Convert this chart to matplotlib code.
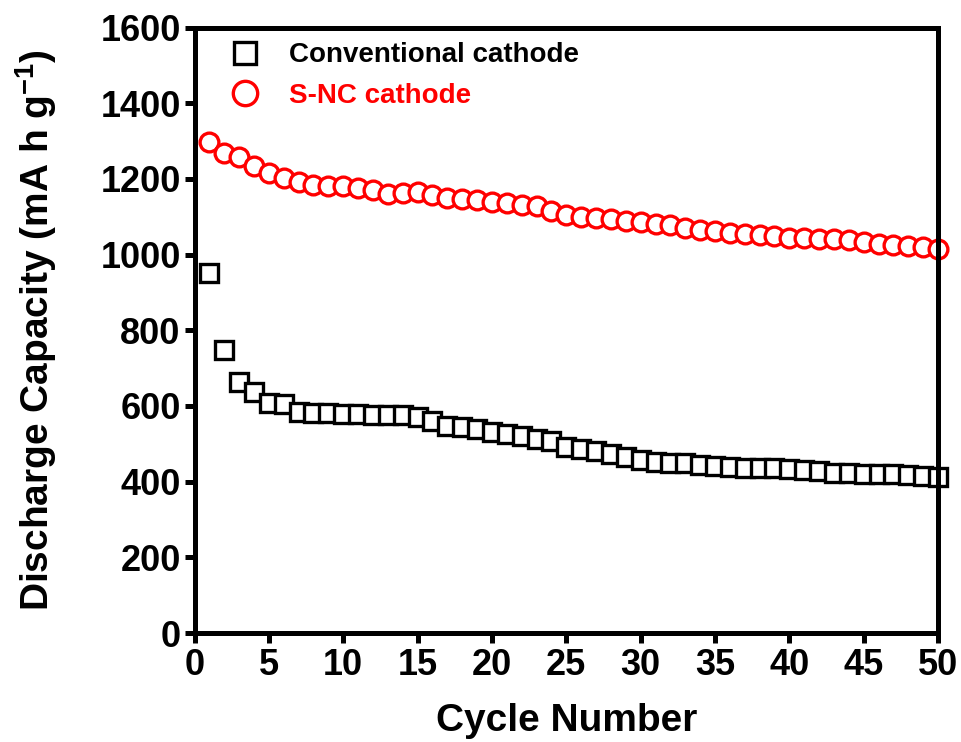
import matplotlib
matplotlib.use("Agg")
import matplotlib.pyplot as plt
import numpy as np

cycles = list(range(1, 51))
conventional = [952, 749, 663, 636, 609, 604, 585, 582, 581, 578,
                578, 576, 575, 575, 570, 561, 547, 544, 539, 531,
                527, 521, 512, 508, 492, 485, 480, 472, 465, 457,
                452, 450, 448, 445, 440, 438, 437, 436, 435, 433,
                430, 427, 424, 422, 420, 420, 420, 418, 415, 412]
snc = [1297, 1268, 1259, 1233, 1215, 1202, 1193, 1184, 1180, 1180,
       1175, 1170, 1160, 1162, 1165, 1158, 1150, 1147, 1144, 1140,
       1135, 1132, 1128, 1115, 1105, 1100, 1097, 1093, 1088, 1085,
       1082, 1078, 1070, 1066, 1062, 1058, 1055, 1051, 1049, 1045,
       1043, 1040, 1040, 1038, 1033, 1028, 1026, 1022, 1020, 1015]
xticks = list(range(0, 51, 5))
yticks = list(range(0, 1601, 200))

plt.rcParams['font.family'] = ['Liberation Sans', 'DejaVu Sans']
plt.rcParams['font.weight'] = 'bold'
plt.rcParams['mathtext.fontset'] = 'custom'
plt.rcParams['mathtext.bf'] = 'Liberation Sans:bold'
plt.rcParams['mathtext.rm'] = 'Liberation Sans:bold'

fig = plt.figure(figsize=(9.62, 7.42), dpi=100)
ax = fig.add_axes([0.2022, 0.1469, 0.7729, 0.816])

ax.plot(cycles, conventional, linestyle='none', marker='s', markersize=12.5,
        markerfacecolor='white', markeredgecolor='black', markeredgewidth=2.4,
        label='Conventional cathode', clip_on=False)
ax.plot(cycles, snc, linestyle='none', marker='o', markersize=13.5,
        markerfacecolor='white', markeredgecolor='#ff0000', markeredgewidth=2.4,
        label='S-NC cathode', clip_on=False)

ax.set_xlim(0, 50)
ax.set_ylim(0, 1600)
ax.set_xticks(xticks)
ax.set_yticks(yticks)
for s in ax.spines.values():
    s.set_linewidth(3.6)
    s.set_zorder(5)
ax.tick_params(direction='out', length=7, width=3.6, labelsize=26)
ax.tick_params(axis='y', pad=3)
ax.tick_params(axis='x', pad=4)
for lab in ax.get_xticklabels() + ax.get_yticklabels():
    lab.set_fontweight('bold')

ax.set_xlabel('Cycle Number', fontsize=28, fontweight='bold', labelpad=14)
ax.set_ylabel('Discharge Capacity (mA h g$^{\\mathbf{-1}}$)', fontsize=28,
              fontweight='bold', labelpad=30)

leg = ax.legend(loc='upper left', frameon=False, fontsize=20, handletextpad=0.6,
                handlelength=2.0, borderaxespad=0.0, borderpad=0.4,
                bbox_to_anchor=(0.0155, 0.994), labelspacing=0.52, markerscale=1.3)
for t, c in zip(leg.get_texts(), ['black', '#ff0000']):
    t.set_color(c)
    t.set_fontweight('bold')

fig.savefig('out.png', dpi=100)
